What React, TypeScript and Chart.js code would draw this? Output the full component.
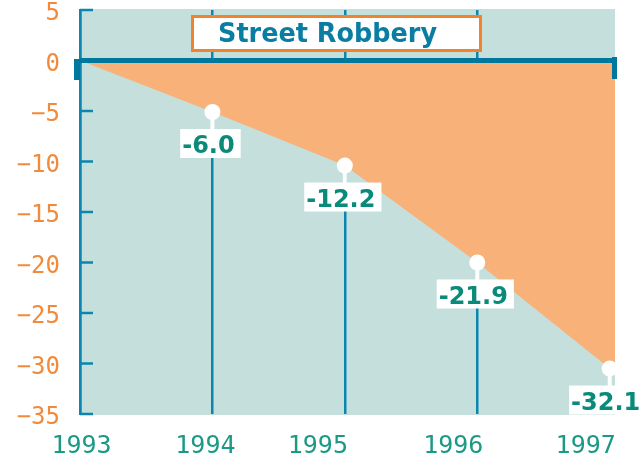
import React, { useEffect, useRef } from "react";
import { Chart, registerables } from "chart.js";

Chart.register(...registerables);

// ---- data ----
const years = [1993, 1994, 1995, 1996, 1997];
const yearLabels = ["1993", "1994", "1995", "1996", "1997"];
// positions of the plotted points
const plottedValues = [0, -5.1, -10.4, -20.0, -30.5];
// printed value labels
const valueLabels = ["", "-6.0", "-12.2", "-21.9", "-32.1"];
const yTickValues = [-35, -30, -25, -20, -15, -10, -5, 0, 5];
const chartTitle = "Street Robbery";

// ---- styles ----
const TEAL_BG = "#c5e0dc";
const ORANGE_FILL = "#f8b179";
const AXIS_BLUE = "#0b86b0";
const ZERO_BLUE = "#00789d";
const VALUE_GREEN = "#0a8a78";
const XLABEL_GREEN = "#1a9985";
const YLABEL_ORANGE = "#f28a3c";
const TITLE_BLUE = "#0a7ea2";
const TITLE_BORDER = "#f0842e";
const X_LABEL_SHIFT = [1.5, -7, -27, -24, -24];

const decor = {
  id: "decor",
  beforeDraw(chart: any) {
    const { ctx, chartArea: a } = chart;
    ctx.save();
    ctx.fillStyle = TEAL_BG;
    ctx.fillRect(a.left, a.top - 1, a.right - a.left, a.bottom - a.top + 2);
    ctx.restore();
  },
  beforeDatasetsDraw(chart: any) {
    // orange area continues to the right edge of the plot
    const { ctx, chartArea: a, scales } = chart;
    const x = scales.x;
    const y = scales.y;
    const n = years.length - 1;
    const lx = x.getPixelForValue(years[n]);
    const ly = y.getPixelForValue(plottedValues[n]);
    const y0 = y.getPixelForValue(0);
    ctx.save();
    ctx.fillStyle = ORANGE_FILL;
    ctx.fillRect(lx - 0.5, y0, a.right - lx + 0.5, ly - y0 + 2);
    ctx.restore();
  },
  afterDatasetsDraw(chart: any) {
    const { ctx, chartArea: a, scales } = chart;
    const x = scales.x;
    const y = scales.y;
    ctx.save();

    // inward y tick marks
    ctx.strokeStyle = AXIS_BLUE;
    ctx.lineWidth = 2.5;
    y.ticks.forEach((t: any) => {
      const py = y.getPixelForValue(t.value);
      ctx.beginPath();
      ctx.moveTo(a.left, py);
      ctx.lineTo(a.left + 13, py);
      ctx.stroke();
    });

    // thick zero line with end stubs
    const y0 = y.getPixelForValue(0);
    ctx.fillStyle = ZERO_BLUE;
    ctx.fillRect(a.left, y0 - 2.5, a.right + 2 - a.left, 5);
    ctx.fillRect(a.left - 6, y0 - 1.5, 6, 21);
    ctx.fillRect(a.right - 3, y0 - 3.5, 5, 22);

    // value stems + label boxes
    ctx.font = "bold 24px 'DejaVu Sans'";
    ctx.textAlign = "left";
    ctx.textBaseline = "alphabetic";
    years.forEach((yr, i) => {
      const txt = valueLabels[i];
      if (!txt) return;
      const px = x.getPixelForValue(yr);
      const py = y.getPixelForValue(plottedValues[i]);
      ctx.fillStyle = "#ffffff";
      ctx.fillRect(px - 2, py, 4, 18);
      const w = ctx.measureText(txt).width;
      const tx = px - 4 - w / 2;
      ctx.fillRect(tx - 2, py + 17, w + 8, 29);
      ctx.fillStyle = VALUE_GREEN;
      ctx.fillText(txt, tx, py + 41);
    });

    // title box
    ctx.fillStyle = "#ffffff";
    ctx.fillRect(192, 16, 289, 35);
    ctx.strokeStyle = TITLE_BORDER;
    ctx.lineWidth = 3;
    ctx.strokeRect(192.5, 16.5, 288, 34);
    ctx.save();
    ctx.translate(218, 42);
    ctx.scale(0.945, 1);
    ctx.fillStyle = TITLE_BLUE;
    ctx.font = "bold 27px 'DejaVu Sans'";
    ctx.textAlign = "left";
    ctx.fillText(chartTitle, 0, 0);
    ctx.restore();

    // x labels
    ctx.fillStyle = XLABEL_GREEN;
    ctx.font = "25px 'DejaVu Sans Mono'";
    ctx.textAlign = "center";
    years.forEach((yr, i) => {
      const px = x.getPixelForValue(yr) + X_LABEL_SHIFT[i];
      ctx.fillText(yearLabels[i], px, 453);
    });

    ctx.restore();
  },
};

export default function App() {
  const ref = useRef<HTMLCanvasElement | null>(null);

  useEffect(() => {
    if (!ref.current) return;
    const chart = new Chart(ref.current, {
      type: "line",
      data: {
        datasets: [
          {
            data: years.map((yr, i) => ({ x: yr, y: plottedValues[i] })),
            fill: "origin",
            backgroundColor: ORANGE_FILL,
            borderColor: "rgba(0,0,0,0)",
            borderWidth: 0,
            pointRadius: plottedValues.map((_, i) => (i === 0 ? 0 : 8)),
            pointBackgroundColor: "#ffffff",
            pointBorderWidth: 0,
            tension: 0,
          },
        ],
      },
      options: {
        responsive: false,
        animation: false,
        events: [],
        layout: { padding: { left: 0, top: 10, right: 28, bottom: 0 } },
        plugins: { legend: { display: false }, tooltip: { enabled: false }, title: { display: false } },
        scales: {
          x: {
            type: "linear",
            min: 1993,
            max: 1997.04,
            afterBuildTicks: (s: any) => {
              s.ticks = years.map((v) => ({ value: v }));
            },
            afterFit: (s: any) => {
              s.height = 44;
              s.paddingLeft = 0;
              s.paddingRight = 0;
            },
            ticks: { display: false },
            border: { display: false },
            grid: {
              drawTicks: false,
              lineWidth: 2.5,
              color: (c: any) => (c.tick && c.tick.value === 1997 ? "rgba(0,0,0,0)" : AXIS_BLUE),
            },
          },
          y: {
            type: "linear",
            min: -35,
            max: 5,
            afterBuildTicks: (s: any) => {
              s.ticks = yTickValues.map((v) => ({ value: v }));
            },
            afterFit: (s: any) => {
              s.width = 80;
              s.paddingTop = 0;
              s.paddingBottom = 0;
            },
            ticks: {
              color: YLABEL_ORANGE,
              font: { family: "'DejaVu Sans Mono'", size: 24 },
              padding: 20,
              labelOffset: 4,
              callback: (v: any) => (v < 0 ? "\u2212" + Math.abs(v) : String(v)),
            },
            border: { display: true, color: AXIS_BLUE, width: 2.5 },
            grid: { drawOnChartArea: false, drawTicks: false },
          },
        },
      },
      plugins: [decor],
    });
    return () => chart.destroy();
  }, []);

  return (
    <div style={{ position: "absolute", left: 0, top: 0, width: 643, height: 458 }}>
      <canvas ref={ref} width={643} height={458} style={{ display: "block" }} />
    </div>
  );
}
